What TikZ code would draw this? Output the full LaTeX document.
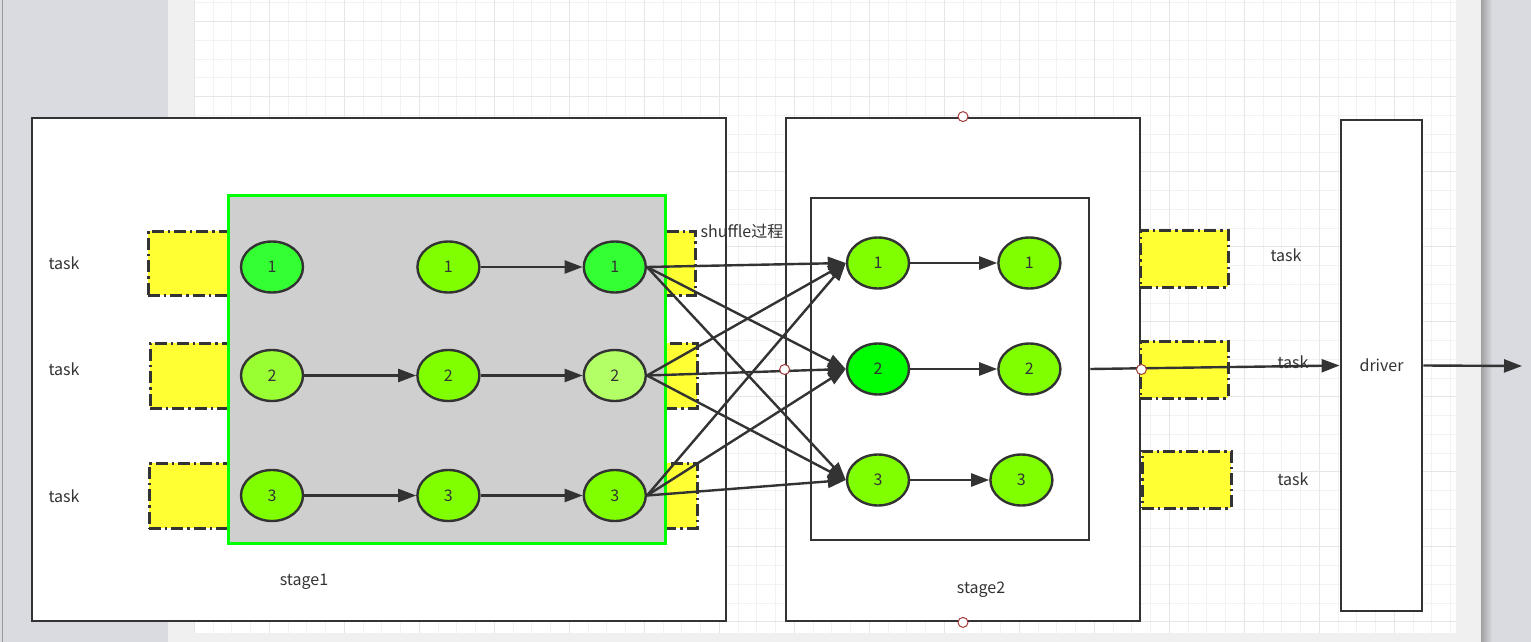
\documentclass[tikz,border=0pt]{standalone}
\usepackage{fontspec}
\setmainfont{Noto Sans CJK SC}
\usepackage{tikz}
\usetikzlibrary{arrows.meta,positioning,shapes.geometric}
\definecolor{ink}{HTML}{333333}
\definecolor{panel}{HTML}{D9DBE0}
\definecolor{strip}{HTML}{F0F0F0}
\definecolor{gridlo}{HTML}{F2F2F2}
\definecolor{gridhi}{HTML}{E6E6E6}
\definecolor{taskfill}{HTML}{FFFF33}
\definecolor{mapfill}{HTML}{CFCFCF}
\definecolor{mapline}{HTML}{00FF00}
\definecolor{leaf}{HTML}{80FF00}
\definecolor{bright}{HTML}{33FF33}
\definecolor{pale}{HTML}{B3FF66}
\definecolor{fresh}{HTML}{99FF33}
\definecolor{pure}{HTML}{00FF00}
\definecolor{handle}{HTML}{A33A3A}
\tikzset{
  frame/.style={draw=ink,line width=1.4pt,fill=white,inner sep=0pt},
  taskbox/.style={draw=ink,line width=1.5pt,dash pattern=on 6pt off 2pt on 1.2pt off 2pt,
    fill=taskfill,inner sep=0pt},
  part/.style={ellipse,draw=ink,line width=1.2pt,minimum width=31pt,minimum height=25.5pt,
    inner sep=0pt,text=ink,font=\fontsize{8}{9.6}\selectfont},
  arr/.style={-{Triangle[length=9pt,width=6.5pt]},line width=1.2pt,draw=ink},
  lbl/.style={text=ink,font=\fontsize{8}{10}\selectfont,inner sep=0pt},
  handle/.style={circle,draw=handle,fill=white,line width=0.5pt,minimum size=5pt,inner sep=0pt}
}
\begin{document}
\begin{tikzpicture}[x=0.5pt,y=-0.5pt]
 \useasboundingbox (0,0) rectangle (1531,642);
 % editor background
 \fill[strip] (0,0) rectangle (1531,642);
 \fill[panel] (0,0) rectangle (168,642);
 \fill[panel] (1481,0) rectangle (1531,642);
 \shade[left color=gray!75,right color=panel] (1481,0) rectangle (1492,642);
 \draw[gray!80,line width=0.6pt] (2.5,0) -- (2.5,642);
 \fill[white] (194.3,0) rectangle (1456,633);
 \foreach \k in {0,...,67} \draw[gridlo,line width=0.5pt] ({194.3+18.75*\k},0) -- ({194.3+18.75*\k},633);
 \foreach \k in {0,...,33} \draw[gridlo,line width=0.5pt] (194.3,{3+18.75*\k}) -- (1456,{3+18.75*\k});
 \foreach \k in {0,...,16} \draw[gridhi,line width=0.5pt] ({194.3+75*\k},0) -- ({194.3+75*\k},633);
 \foreach \k in {0,...,8} \draw[gridhi,line width=0.5pt] (194.3,{21.7+75*\k}) -- (1456,{21.7+75*\k});

 % stage 1
 \node[frame,minimum width=347pt,minimum height=251.5pt] (stageA) at (379,369.5) {};
 \node[taskbox,minimum width=273.5pt,minimum height=32pt] (taskA1) at (421.5,263) {};
 \node[taskbox,minimum width=273.5pt,minimum height=32.5pt] (taskA2) at (423.5,375.5) {};
 \node[taskbox,minimum width=274pt,minimum height=32.5pt] (taskA3) at (423,495.5) {};
 \node[draw=mapline,fill=mapfill,line width=1.5pt,minimum width=218.5pt,minimum height=174pt,
   inner sep=0pt] (mapper) at (446.5,369) {};
 \node[lbl] (tA1) at (64,263) {task};
 \node[lbl] (tA2) at (64,369) {task};
 \node[lbl] (tA3) at (64,496) {task};
 \node[lbl] (nameA) at (304,582) {stage1};

 \node[part,fill=bright] (a1) at (272,267) {1};
 \node[part,fill=fresh] (a2) at (272,375.5) {2};
 \node[part,fill=leaf] (a3) at (272,495.5) {3};
 \node[part,fill=leaf,right=56pt of a1] (b1) {1};
 \node[part,fill=leaf,right=56pt of a2] (b2) {2};
 \node[part,fill=leaf,right=56pt of a3] (b3) {3};
 \node[part,fill=bright,right=51pt of b1] (c1) {1};
 \node[part,fill=pale,right=51pt of b2] (c2) {2};
 \node[part,fill=leaf,right=51pt of b3] (c3) {3};
 \draw[arr] (b1)--(c1); \draw[arr] (a2)--(b2); \draw[arr] (b2)--(c2);
 \draw[arr] (a3)--(b3); \draw[arr] (b3)--(c3);

 % stage 2
 \node[frame,minimum width=177pt,minimum height=251.5pt] (stageB) at (963,369.5) {};
 \node[frame,minimum width=139pt,minimum height=171pt] (reducer) at (950,369) {};
 \node[taskbox,minimum width=44pt,minimum height=28.5pt] (taskB1) at (1184,258.5) {};
 \node[taskbox,minimum width=44pt,minimum height=28.5pt] (taskB2) at (1184,369.5) {};
 \node[taskbox,minimum width=44.5pt,minimum height=28.5pt] (taskB3) at (1186.5,479.5) {};
 \node[lbl] (tB1) at (1286,255) {task};
 \node[lbl] (tB2) at (1293,362) {task};
 \node[lbl] (tB3) at (1293,479) {task};
 \node[lbl] (nameB) at (981,590) {stage2};
 \node[lbl] (shuffle) at (742,231) {shuffle过程};

 \node[part,fill=leaf] (d1) at (878,263) {1};
 \node[part,fill=pure] (d2) at (878,369) {2};
 \node[part,fill=leaf] (d3) at (878,480) {3};
 \node[part,fill=leaf,right=43.5pt of d1] (e1) {1};
 \node[part,fill=leaf,right=43.5pt of d2] (e2) {2};
 \node[part,fill=leaf,right=39.5pt of d3] (e3) {3};
 \draw[arr] (d1)--(e1); \draw[arr] (d2)--(e2); \draw[arr] (d3)--(e3);

 % shuffle
 \draw[arr] (c1.east)--(d1.west); \draw[arr] (c1.east)--(d2.west); \draw[arr] (c1.east)--(d3.west);
 \draw[arr] (c2.east)--(d1.west); \draw[arr] (c2.east)--(d2.west); \draw[arr] (c2.east)--(d3.west);
 \draw[arr] (c3.east)--(d1.west); \draw[arr] (c3.east)--(d2.west); \draw[arr] (c3.east)--(d3.west);

 % driver
 \node[frame,minimum width=40.5pt,minimum height=245.5pt,lbl] (driver) at (1381.5,365.5) {driver};
 \coordinate (out) at (1522,366);
 \draw[arr] (reducer.east)--(driver.west);
 \draw[arr] (driver.east)--(out);

 \node[handle] (hN) at (stageB.north) {};
 \node[handle] (hS) at (stageB.south) {};
 \node[handle] (hW) at (stageB.west) {};
 \node[handle] (hE) at (stageB.east) {};
\end{tikzpicture}
\end{document}
